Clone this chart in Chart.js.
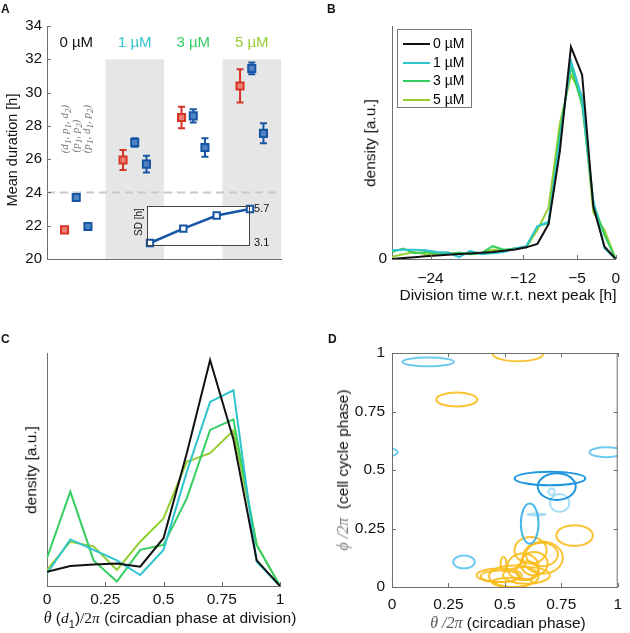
<!DOCTYPE html>
<html lang="en">
<head>
<meta charset="UTF-8">
<title>Division timing figure</title>
<script src="https://cdn.jsdelivr.net/npm/chart.js"></script>
<style>
  body { margin: 0; background: #fff; }
  #fig { position: relative; width: 630px; height: 633px; overflow: hidden; }
  canvas { position: absolute; }
  .t { position: absolute; white-space: nowrap; line-height: 1;
       font-family: "Liberation Sans", Arial, sans-serif; color: #111;
       transform: translate(-50%, -50%); }
  .r { transform: translate(-50%, -50%) rotate(-90deg); }
  .m { font-family: "Liberation Serif", serif; font-style: italic; }
  .lt { font-weight: bold; font-size: 12px; transform: none; }
  #legB { position: absolute; left: 397px; top: 29px; width: 75px; height: 79px;
          border: 1px solid #777; background: #fff; box-sizing: border-box; }
  #legB div { position: absolute; left: 5px; height: 18px; font: 14px "Liberation Sans", Arial, sans-serif; }
  #legB span.ln { display: inline-block; width: 27px; height: 2px; vertical-align: middle; margin-right: 3px; }
</style>
</head>
<body>
<div id="fig">
  <canvas id="chA" width="310" height="310" style="left:0;top:0"></canvas>
  <canvas id="chInset" width="180" height="70" style="left:110px;top:190px"></canvas>
  <canvas id="chB" width="320" height="310" style="left:310px;top:0"></canvas>
  <canvas id="chC" width="310" height="323" style="left:0;top:310px"></canvas>
  <canvas id="chD" width="320" height="323" style="left:310px;top:310px"></canvas>

  <div class="t lt" style="left:1px;top:3px">A</div>
  <div class="t lt" style="left:327px;top:3px">B</div>
  <div class="t lt" style="left:1px;top:333px">C</div>
  <div class="t lt" style="left:328px;top:333px">D</div>

  <div class="t r" style="left:12px;top:150px;font-size:14.5px">Mean duration [h]</div>
  <div class="t r m" style="left:66px;top:129px;font-size:11px;color:#777">(d<sub>1</sub>, p<sub>1</sub>, d<sub>2</sub>)</div>
  <div class="t r m" style="left:77px;top:136px;font-size:11px;color:#777">(p<sub>1</sub>, p<sub>2</sub>)</div>
  <div class="t r m" style="left:88px;top:129px;font-size:11px;color:#777">(p<sub>1</sub>, d<sub>1</sub>, p<sub>2</sub>)</div>
  <div class="t r" style="left:139px;top:222px;font-size:10px">SD [h]</div>

  <div class="t r" style="left:370px;top:143px;font-size:15.5px">density [a.u.]</div>
  <div class="t" style="left:508px;top:295px;font-size:15.5px">Division time w.r.t. next peak [h]</div>
  <div id="legB"></div>

  <div class="t r" style="left:31px;top:470px;font-size:15.5px">density [a.u.]</div>
  <div class="t" style="left:170px;top:620px;font-size:15.5px"><span class="m" style="font-size:16px">θ</span> (<span class="m">d</span><sub style="font-size:11px">1</sub>)<span class="m" style="font-style:normal">/2</span><span class="m">π</span> (circadian phase at division)</div>

  <div class="t r" style="left:343px;top:470px;font-size:15.5px"><span class="m" style="color:#777;font-size:16px">ϕ /2π</span>&nbsp; (cell cycle phase)</div>
  <div class="t" style="left:508px;top:623px;font-size:15.5px"><span class="m" style="color:#555;font-size:16px">θ /2π</span> (circadian phase)</div>
</div>

<script>
// ---------- data ----------
// panel A: mean durations per drug concentration
const concLabels = ['0 µM', '1 µM', '3 µM', '5 µM'];
const meanD1P1D2 = [21.75, 25.95, 28.5, 30.4];
const errD1P1D2 = [0.12, 0.6, 0.65, 1.0];
const meanP1P2 = [23.7, 27.0, 28.6, 31.45];
const errP1P2 = [0.12, 0.25, 0.4, 0.35];
const meanP1D1P2 = [21.95, 25.7, 26.7, 27.55];
const errP1D1P2 = [0.12, 0.5, 0.55, 0.6];
// inset: SD of durations
const sdValues = [3.1, 4.2, 5.2, 5.7];

// panel B: division time relative to next peak
const bTime = [-29, -27.55, -26.1, -24.65, -23.2, -21.75, -20.3, -18.85, -17.4, -15.95, -14.5,
               -13.05, -11.6, -10.15, -8.7, -7.25, -5.8, -4.35, -2.9, -1.45, 0];
const b0 = [0, 0.004, 0.008, 0.012, 0.015, 0.018, 0.021, 0.024, 0.027, 0.03, 0.035, 0.041, 0.05, 0.065, 0.15, 0.46, 0.91, 0.79, 0.225, 0.053, 0];
const b1 = [0.038, 0.04, 0.04, 0.038, 0.03, 0.028, 0.008, 0.035, 0.02, 0.025, 0.03, 0.045, 0.055, 0.14, 0.16, 0.51, 0.85, 0.69, 0.25, 0.046, 0];
const b3 = [0.03, 0.045, 0.025, 0.03, 0.025, 0.02, 0.028, 0.02, 0.025, 0.055, 0.04, 0.045, 0.05, 0.14, 0.155, 0.54, 0.826, 0.66, 0.24, 0.103, 0];
const b5 = [0.01, 0.02, 0.03, 0.02, 0.022, 0.028, 0.02, 0.03, 0.025, 0.04, 0.035, 0.045, 0.05, 0.125, 0.22, 0.58, 0.79, 0.70, 0.2, 0.124, 0];

// panel C: circadian phase at division
const cPhase = [0, 0.1, 0.2, 0.3, 0.4, 0.5, 0.6, 0.7, 0.8, 0.9, 1];
const c0 = [0.061, 0.086, 0.092, 0.097, 0.083, 0.205, 0.57, 0.97, 0.63, 0.11, 0];
const c1 = [0.054, 0.2, 0.155, 0.11, 0.047, 0.155, 0.49, 0.79, 0.84, 0.104, 0];
const c3 = [0.12, 0.405, 0.11, 0.019, 0.155, 0.176, 0.376, 0.67, 0.715, 0.176, 0];
const c5 = [0.069, 0.19, 0.17, 0.069, 0.19, 0.29, 0.533, 0.57, 0.667, 0.176, 0];

// panel D: ellipses [theta centre, phi centre, theta radius, phi radius]
const ellLight = [[0.16, 0.962, 0.114, 0.019], [0.95, 0.576, 0.075, 0.021], [-0.05, 0.576, 0.075, 0.021], [0.319, 0.107, 0.048, 0.028]];
const ellPale = [[0.743, 0.359, 0.043, 0.038], [0.707, 0.407, 0.014, 0.014], [0.64, 0.31, 0.04, 0.004]];
const ellMid = [[0.61, 0.271, 0.039, 0.086]];
const ellDark = [[0.7, 0.464, 0.157, 0.029], [0.73, 0.429, 0.084, 0.057]];
const ellGold = [[0.287, 0.801, 0.091, 0.03], [0.558, 0.995, 0.111, 0.03], [0.809, 0.22, 0.081, 0.044],
  [0.475, 0.05, 0.1, 0.029], [0.54, 0.046, 0.11, 0.046], [0.58, 0.086, 0.07, 0.057],
  [0.668, 0.125, 0.089, 0.068], [0.614, 0.157, 0.071, 0.057], [0.596, 0.05, 0.104, 0.036],
  [0.494, 0.1, 0.013, 0.029], [0.532, 0.02, 0.089, 0.02], [0.664, 0.139, 0.071, 0.05],
  [0.479, 0.046, 0.086, 0.025], [0.6, 0.07, 0.05, 0.04], [0.63, 0.1, 0.06, 0.05]];

// ---------- styles ----------
const FONT = '"Liberation Sans", Arial, sans-serif';
const concColors = ['#111111', 'rgb(45,196,206)', 'rgb(52,206,96)', 'rgb(150,206,50)'];
const axisCol = 'rgb(110,110,110)';
const red = 'rgb(214,52,38)', blue = 'rgb(22,84,164)';
const tickFont = { family: FONT, size: 15.5 };
const noGrid = { display: false, drawTicks: false };
const fmt = v => String(Math.round(v * 100) / 100);

const legB = document.getElementById('legB');
concLabels.forEach((l, i) => {
  const d = document.createElement('div');
  d.style.top = (5 + i * 18.5) + 'px';
  d.innerHTML = '<span class="ln" style="background:' + concColors[i] + '"></span>' + l;
  legB.appendChild(d);
});

function tickMarks(edges) {
  return {
    id: 'tickMarks',
    afterDraw(chart) {
      const { ctx, chartArea: a } = chart;
      ctx.save();
      ctx.strokeStyle = axisCol;
      ctx.lineWidth = 1;
      edges.forEach(e => {
        const s = chart.scales[e.axis];
        s.ticks.forEach(t => {
          const p = Math.round(s.getPixelForValue(t.value)) + 0.5;
          ctx.beginPath();
          if (e.side === 'bottom') { ctx.moveTo(p, a.bottom); ctx.lineTo(p, a.bottom - 4); }
          if (e.side === 'top') { ctx.moveTo(p, a.top); ctx.lineTo(p, a.top + 4); }
          if (e.side === 'left') { ctx.moveTo(a.left, p); ctx.lineTo(a.left + 4, p); }
          if (e.side === 'right') { ctx.moveTo(a.right, p); ctx.lineTo(a.right - 4, p); }
          ctx.stroke();
        });
      });
      if (edges.some(e => e.side === 'top')) {
        ctx.strokeRect(a.left + 0.5, a.top + 0.5, a.right - a.left - 1, a.bottom - a.top);
      }
      ctx.restore();
    }
  };
}

const baseOpts = (pad) => ({
  responsive: false, animation: false, events: [],
  layout: { padding: pad },
  plugins: { legend: { display: false }, tooltip: { enabled: false } }
});

// ---------- panel A ----------
const offsets = [0.3, 0.5, 0.7];
function markerSet(means, errs, k, col, fill) {
  return {
    data: means.map((v, i) => ({ x: i + offsets[k], y: v })),
    errs: errs,
    borderColor: col, backgroundColor: fill,
    pointStyle: 'rect', pointRadius: 5, borderWidth: 2
  };
}
const panelA = {
  id: 'panelA',
  beforeDatasetsDraw(chart) {
    const { ctx, chartArea: a, scales: { x, y } } = chart;
    ctx.save();
    ctx.fillStyle = 'rgb(230,230,230)';
    [1, 3].forEach(g => {
      const x0 = x.getPixelForValue(g), x1 = x.getPixelForValue(g + 1);
      ctx.fillRect(x0, y.getPixelForValue(32), x1 - x0, a.bottom - y.getPixelForValue(32));
    });
    ctx.strokeStyle = 'rgb(200,200,200)';
    ctx.lineWidth = 2;
    ctx.setLineDash([8, 5]);
    ctx.beginPath();
    ctx.moveTo(a.left, y.getPixelForValue(24));
    ctx.lineTo(a.right, y.getPixelForValue(24));
    ctx.stroke();
    ctx.setLineDash([]);
    chart.data.datasets.forEach(ds => {
      ctx.strokeStyle = ds.borderColor;
      ctx.lineWidth = 2;
      ds.data.forEach((p, i) => {
        const px = x.getPixelForValue(p.x);
        const top = y.getPixelForValue(p.y + ds.errs[i]);
        const bot = y.getPixelForValue(p.y - ds.errs[i]);
        ctx.beginPath();
        ctx.moveTo(px, top); ctx.lineTo(px, bot);
        ctx.moveTo(px - 3.5, top); ctx.lineTo(px + 3.5, top);
        ctx.moveTo(px - 3.5, bot); ctx.lineTo(px + 3.5, bot);
        ctx.stroke();
      });
    });
    ctx.font = '15px ' + FONT;
    ctx.textAlign = 'center';
    ctx.textBaseline = 'middle';
    concLabels.forEach((l, i) => {
      ctx.fillStyle = concColors[i];
      ctx.fillText(l, x.getPixelForValue(i + 0.5), 43);
    });
    ctx.restore();
  }
};

new Chart(document.getElementById('chA'), {
  type: 'scatter',
  data: {
    datasets: [
      markerSet(meanD1P1D2, errD1P1D2, 0, red, 'rgb(236,130,118)'),
      markerSet(meanP1P2, errP1P2, 1, blue, 'rgb(80,130,196)'),
      markerSet(meanP1D1P2, errP1D1P2, 2, blue, 'rgb(80,130,196)')
    ]
  },
  options: Object.assign(baseOpts({ top: 26, right: 29, left: 0, bottom: 0 }), {
    scales: {
      x: { type: 'linear', min: 0, max: 4, ticks: { display: false },
           grid: noGrid, border: { display: true, color: axisCol },
           afterFit: s => { s.height = 51; } },
      y: { min: 20, max: 34, ticks: { stepSize: 2, font: { family: FONT, size: 15 }, color: '#111', padding: 5 },
           grid: noGrid, border: { display: true, color: axisCol },
           afterFit: s => { s.width = 47; } }
    }
  }),
  plugins: [panelA, tickMarks([{ axis: 'y', side: 'left' }])]
});

// inset
const insetBox = {
  id: 'insetBox',
  beforeDraw(chart) {
    const { ctx, chartArea: a } = chart;
    ctx.save();
    ctx.fillStyle = '#fff';
    ctx.fillRect(a.left, a.top, a.right - a.left, a.bottom - a.top);
    ctx.restore();
  },
  afterDraw(chart) {
    const { ctx, chartArea: a } = chart;
    ctx.save();
    ctx.strokeStyle = '#444';
    ctx.lineWidth = 1;
    ctx.strokeRect(a.left + 0.5, a.top + 0.5, a.right - a.left - 1, a.bottom - a.top - 1);
    ctx.restore();
  }
};
new Chart(document.getElementById('chInset'), {
  type: 'scatter',
  data: {
    datasets: [{
      data: sdValues.map((v, i) => ({ x: i, y: v })),
      showLine: true, clip: false,
      borderColor: blue, borderWidth: 2.5, backgroundColor: '#fff',
      pointStyle: 'rect', pointRadius: 4.5, pointBorderWidth: 2
    }]
  },
  options: Object.assign(baseOpts({ top: 16, left: 37, right: 0, bottom: 14 }), {
    scales: {
      x: { type: 'linear', min: -0.09, max: 3, display: false },
      y: { position: 'right', min: 2.87, max: 5.93,
           afterBuildTicks: s => { s.ticks = [{ value: 3.1 }, { value: 5.7 }]; },
           ticks: { font: { family: FONT, size: 11 }, color: '#111', padding: 4, callback: v => v.toFixed(1) },
           grid: noGrid, border: { display: false },
           afterFit: s => { s.width = 40; } }
    }
  }),
  plugins: [insetBox]
});

// ---------- panel B ----------
const lineSet = (xs, ys, i) => ({
  data: ys.map((v, k) => ({ x: xs[k], y: v })),
  showLine: true, borderColor: concColors[i], borderWidth: 2, pointRadius: 0, tension: 0
});
new Chart(document.getElementById('chB'), {
  type: 'scatter',
  data: { datasets: [lineSet(bTime, b0, 0), lineSet(bTime, b1, 1), lineSet(bTime, b3, 2), lineSet(bTime, b5, 3)] },
  options: Object.assign(baseOpts({ top: 26, right: 5, left: 0, bottom: 0 }), {
    scales: {
      x: { type: 'linear', min: -29, max: 0,
           afterBuildTicks: s => { s.ticks = [-24, -12, -5, 0].map(v => ({ value: v })); },
           ticks: { font: tickFont, color: '#111', padding: 10, callback: v => String(v).replace('-', '\u2212') },
           grid: noGrid, border: { display: true, color: axisCol },
           afterFit: s => { s.height = 51; } },
      y: { min: 0, max: 1,
           afterBuildTicks: s => { s.ticks = [{ value: 0 }]; },
           ticks: { font: tickFont, color: '#111', padding: 5 },
           grid: noGrid, border: { display: true, color: axisCol },
           afterFit: s => { s.width = 82; } }
    }
  }),
  plugins: [tickMarks([{ axis: 'x', side: 'bottom' }])]
});

// ---------- panel C ----------
new Chart(document.getElementById('chC'), {
  type: 'scatter',
  data: { datasets: [lineSet(cPhase, c0, 0), lineSet(cPhase, c1, 1), lineSet(cPhase, c3, 2), lineSet(cPhase, c5, 3)] },
  options: Object.assign(baseOpts({ top: 43, right: 30, left: 0, bottom: 0 }), {
    scales: {
      x: { type: 'linear', min: 0, max: 1,
           ticks: { stepSize: 0.25, font: tickFont, color: '#111', padding: 4, callback: fmt },
           grid: noGrid, border: { display: true, color: axisCol },
           afterFit: s => { s.height = 47; } },
      y: { min: 0, max: 1, ticks: { display: false },
           grid: noGrid, border: { display: true, color: axisCol },
           afterFit: s => { s.width = 47; } }
    }
  }),
  plugins: [tickMarks([{ axis: 'x', side: 'bottom' }])]
});

// ---------- panel D ----------
const ellGroups = [
  { list: ellGold, color: 'rgba(250,188,28,0.9)' },
  { list: ellLight, color: 'rgb(110,202,240)' },
  { list: ellPale, color: 'rgb(165,222,245)' },
  { list: ellMid, color: 'rgb(75,182,232)' },
  { list: ellDark, color: 'rgb(32,150,222)' }
];
const ellipses = {
  id: 'ellipses',
  afterDatasetsDraw(chart) {
    const { ctx, chartArea: a, scales: { x, y } } = chart;
    ctx.save();
    ctx.beginPath();
    ctx.rect(a.left, a.top, a.right - a.left, a.bottom - a.top);
    ctx.clip();
    ctx.lineWidth = 2;
    ellGroups.forEach(g => {
      ctx.strokeStyle = g.color;
      g.list.forEach(([cx, cy, rx, ry]) => {
        const px = x.getPixelForValue(cx), py = y.getPixelForValue(cy);
        const prx = Math.abs(x.getPixelForValue(cx + rx) - px);
        const pry = Math.abs(y.getPixelForValue(cy + ry) - py);
        ctx.beginPath();
        ctx.ellipse(px, py, prx, pry, 0, 0, Math.PI * 2);
        ctx.stroke();
      });
    });
    ctx.restore();
  }
};
new Chart(document.getElementById('chD'), {
  type: 'scatter',
  data: { datasets: [] },
  options: Object.assign(baseOpts({ top: 43, right: 5, left: 0, bottom: 0 }), {
    scales: {
      x: { type: 'linear', min: 0, max: 1,
           ticks: { stepSize: 0.25, font: tickFont, color: '#111', padding: 8, callback: fmt },
           grid: noGrid, border: { display: true, color: axisCol },
           afterFit: s => { s.height = 46; } },
      y: { min: 0, max: 1,
           ticks: { stepSize: 0.25, font: tickFont, color: '#111', padding: 7, callback: fmt },
           grid: noGrid, border: { display: true, color: axisCol },
           afterFit: s => { s.width = 82; } }
    }
  }),
  plugins: [ellipses, tickMarks([{ axis: 'x', side: 'bottom' }, { axis: 'x', side: 'top' },
                                 { axis: 'y', side: 'left' }, { axis: 'y', side: 'right' }])]
});
</script>
</body>
</html>
